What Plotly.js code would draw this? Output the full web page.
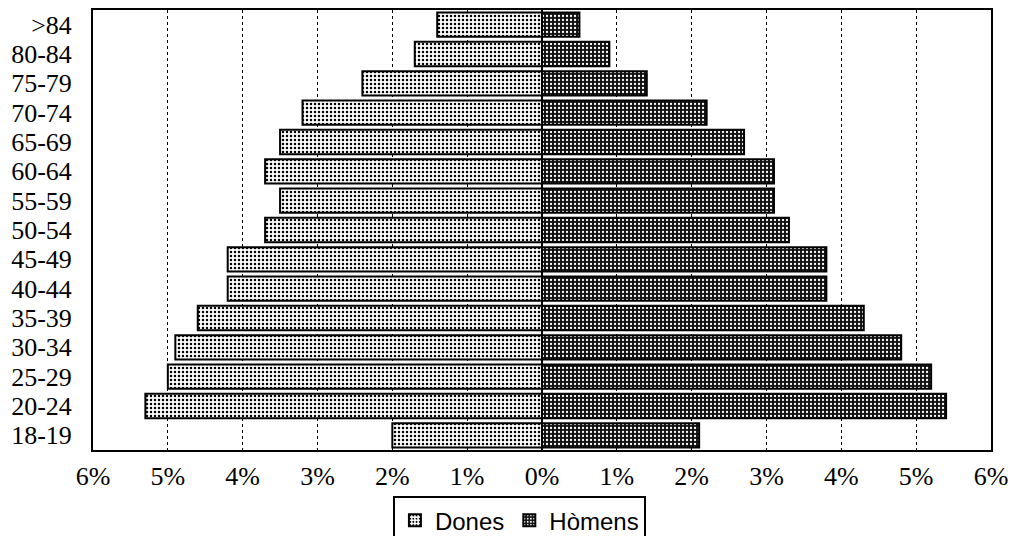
<!DOCTYPE html>
<html>
<head>
<meta charset="utf-8">
<script src="https://cdn.plot.ly/plotly-3.0.1.min.js"></script>
<style>html,body{margin:0;padding:0;background:#fff;}#chart{width:1013px;height:536px;}</style>
</head>
<body>
<div id="chart"></div>
<script>
const ageGroups = ["18-19","20-24","25-29","30-34","35-39","40-44","45-49","50-54","55-59","60-64","65-69","70-74","75-79","80-84",">84"];
const dones =    [2.0, 5.3, 5.0, 4.9, 4.6, 4.2, 4.2, 3.7, 3.5, 3.7, 3.5, 3.2, 2.4, 1.7, 1.4];
const homens =   [2.1, 5.4, 5.2, 4.8, 4.3, 3.8, 3.8, 3.3, 3.1, 3.1, 2.7, 2.2, 1.4, 0.9, 0.5];
const tickValues = [-6,-5,-4,-3,-2,-1,0,1,2,3,4,5,6];
const tickLabels = ["6%","5%","4%","3%","2%","1%","0%","1%","2%","3%","4%","5%","6%"];

const traces = [
  {
    type: 'bar', orientation: 'h', name: 'Dones',
    y: ageGroups, x: dones.map(v => -v),
    marker: {
      color: '#ffffff',
      line: {color: '#000', width: 2},
      pattern: {shape: '.', bgcolor: '#ffffff', fgcolor: '#000000', size: 4, solidity: 0.3}
    },
    hoverinfo: 'skip'
  },
  {
    type: 'bar', orientation: 'h', name: 'Hòmens',
    y: ageGroups, x: homens,
    marker: {
      color: '#111',
      line: {color: '#000', width: 2},
      pattern: {shape: '.', bgcolor: '#111111', fgcolor: '#ffffff', size: 4, solidity: 0.25}
    },
    hoverinfo: 'skip'
  }
];

const layout = {
  width: 1013, height: 536,
  margin: {l: 93, r: 22, t: 10, b: 86, autoexpand: false},
  paper_bgcolor: '#fff', plot_bgcolor: '#fff',
  barmode: 'relative',
  bargap: 0.17,
  showlegend: true,
  font: {family: '"Liberation Serif", "Times New Roman", serif', size: 26, color: '#000'},
  xaxis: {
    range: [-6, 6],
    tickmode: 'array', tickvals: tickValues, ticktext: tickLabels,
    showgrid: true, gridcolor: '#000', gridwidth: 1, griddash: 'dot',
    zeroline: true, zerolinecolor: '#000', zerolinewidth: 2,
    showline: true, linecolor: '#000', linewidth: 2, mirror: true,
    ticks: '', ticklabelstandoff: 2,
    tickfont: {family: '"Liberation Serif", "Times New Roman", serif', size: 26, color: '#000'},
    fixedrange: true
  },
  yaxis: {
    type: 'category', categoryorder: 'array', categoryarray: ageGroups,
    tickmode: 'array', tickvals: ageGroups, ticktext: ageGroups,
    showgrid: false, zeroline: false,
    showline: true, linecolor: '#000', linewidth: 2, mirror: true,
    ticks: '', ticklabelstandoff: 14,
    tickfont: {family: '"Liberation Serif", "Times New Roman", serif', size: 26, color: '#000'},
    fixedrange: true
  },
  legend: {
    orientation: 'h',
    x: 0.334, xanchor: 'left',
    y: -0.105, yanchor: 'top',
    bordercolor: '#000', borderwidth: 2, bgcolor: '#fff',
    font: {family: '"Liberation Sans", Arial, sans-serif', size: 24, color: '#000'},
    itemwidth: 30, tracegroupgap: 0
  }
};

Plotly.newPlot('chart', traces, layout, {displayModeBar: false, staticPlot: true});
</script>
</body>
</html>
